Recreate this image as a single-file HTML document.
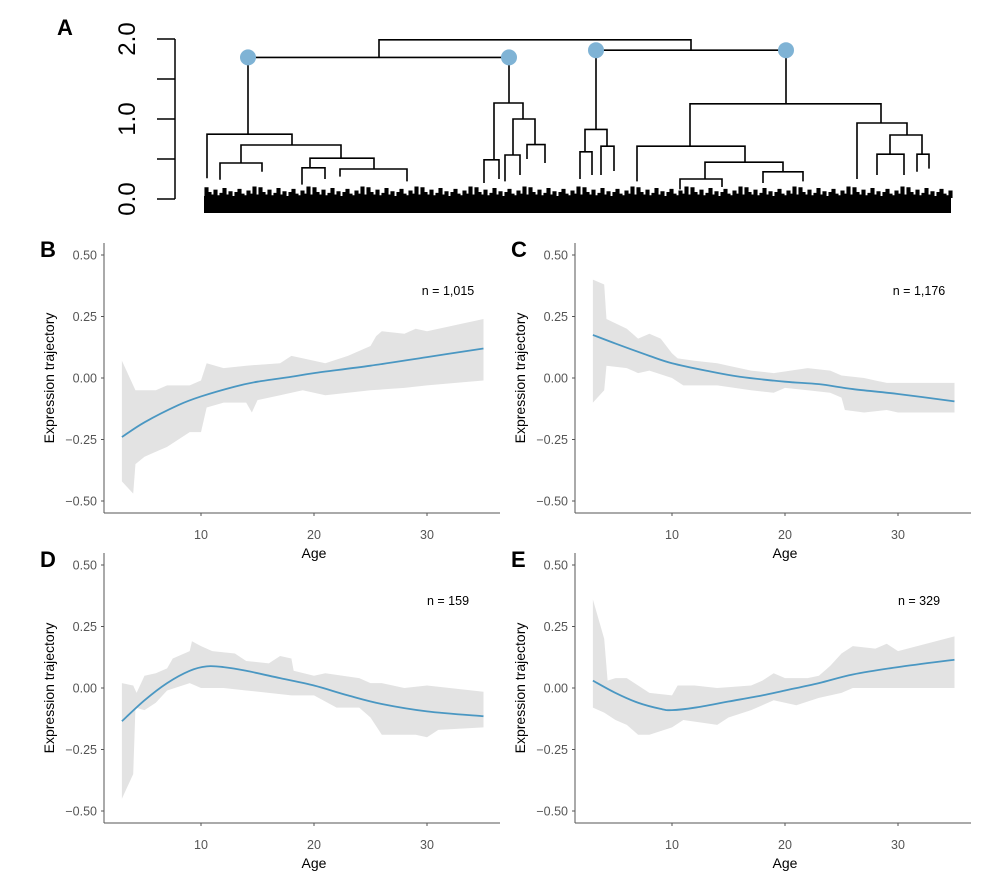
<!DOCTYPE html>
<html><head><meta charset="utf-8"><style>
html,body{margin:0;padding:0;background:#fff;overflow:hidden;}
svg{display:block;font-family:"Liberation Sans",Arial,sans-serif;}
</style></head><body>
<svg id="fig" width="1000" height="879" viewBox="0 0 1000 879"></svg>
<script>
// ---------- Dendrogram data (leaf units = px offset from 205, heights in dendrogram units) ----------
const dendroTicks = [0, 0.5, 1.0, 1.5, 2.0];
const dendroTickLabels = ["0.0", "", "1.0", "", "2.0"];
// links: [leftX, rightX, height, leftChildHeight, rightChildHeight]
const dendroLinks = [
 [174,486,1.99,1.77,1.86],
 [43,304,1.77,0.81,1.20],
 [391,581,1.86,0.87,1.19],
 [2,87,0.81,0.26,0.675],
 [36,136,0.675,0.45,0.51],
 [15,57,0.45,0.24,0.34],
 [105,169,0.51,0.39,0.375],
 [97,120,0.39,0.18,0.25],
 [135,202,0.375,0.28,0.22],
 [289,318,1.20,0.49,1.0],
 [279,294,0.49,0.2,0.25],
 [308,330,1.0,0.55,0.68],
 [300,315,0.55,0.22,0.3],
 [322,340,0.68,0.5,0.45],
 [380,402,0.87,0.59,0.66],
 [375,387,0.59,0.25,0.3],
 [396,409,0.66,0.3,0.35],
 [485,676,1.19,0.66,0.95],
 [432,540,0.66,0.22,0.46],
 [500,578,0.46,0.25,0.34],
 [475,517,0.25,0.12,0.15],
 [558,598,0.34,0.2,0.22],
 [652,702,0.95,0.25,0.80],
 [685,717,0.80,0.56,0.56],
 [712,724,0.56,0.34,0.38],
 [672,699,0.56,0.3,0.3]
];
const dendroNodes = [[43,1.77],[304,1.77],[391,1.86],[581,1.86]];
// leaf stubs (heights at bottom clutter)
const leafStubs = [0.14,0.08,0.05,0.11,0.04,0.07,0.13,0.05,0.09,0.03,0.08,0.12,0.06,0.04,0.1,0.06,0.15,0.05];

// ---------- Trajectory panel data ----------
const yTicks = [0.5,0.25,0,-0.25,-0.5];
const yTickLabels = ["0.50","0.25","0.00","\u22120.25","\u22120.50"];
const xTicks = [10,20,30];
const xTickLabels = ["10","20","30"];

const ageB = [3,5,8,10,13,15,18,20,25,30,35];
const fitB = [-0.24,-0.18,-0.11,-0.075,-0.035,-0.015,0.005,0.02,0.05,0.085,0.12];
const upAgeB = [3,4,4.2,6,7,9,10,10.5,12,14,17,18,20,21,23,25,25.5,26,28,29,30,35];
const upB = [0.07,-0.03,-0.05,-0.05,-0.03,-0.03,-0.01,0.06,0.04,0.05,0.06,0.09,0.07,0.06,0.09,0.13,0.17,0.19,0.18,0.2,0.19,0.24];
const loAgeB = [3,4,4.2,5,6,7,8,9,10,10.5,12,14,14.5,15,17,19,21,23,25,28,30,35];
const loB = [-0.42,-0.47,-0.35,-0.32,-0.30,-0.28,-0.25,-0.22,-0.22,-0.12,-0.1,-0.1,-0.14,-0.09,-0.07,-0.05,-0.07,-0.06,-0.05,-0.04,-0.03,-0.01];

const ageC = [3,5,8,10,13,16,20,23,26,30,35];
const fitC = [0.175,0.14,0.09,0.06,0.03,0.005,-0.015,-0.025,-0.045,-0.065,-0.095];
const upAgeC = [3,4,4.2,6,7,8,9,10,10.5,12,14,15,17,19,22,24,25,27,28,29,30,35];
const upC = [0.40,0.38,0.24,0.2,0.16,0.18,0.16,0.1,0.08,0.07,0.06,0.05,0.03,0.02,0.04,0.03,0.01,0.0,-0.01,-0.02,-0.02,-0.02];
const loAgeC = [3,4,4.2,6,7,8,10,11,14,17,19,20,22,24,25,25.3,27,29,30,35];
const loC = [-0.1,-0.05,0.05,0.04,0.02,0.03,0.0,-0.03,-0.03,-0.05,-0.06,-0.04,-0.05,-0.06,-0.08,-0.13,-0.14,-0.13,-0.14,-0.14];

const ageD = [3,5,7,9,10.5,12,14,17,20,23,26,30,35];
const fitD = [-0.135,-0.05,0.02,0.07,0.088,0.085,0.07,0.04,0.01,-0.03,-0.065,-0.095,-0.115];
const upAgeD = [3,4,4.3,5,6,7,7.5,9,9.2,10,11,13,14,16,17,18,18.2,20,21,24,25,26,28,30,35];
const upD = [0.02,0.01,-0.02,0.05,0.06,0.08,0.12,0.15,0.19,0.17,0.15,0.14,0.11,0.1,0.13,0.12,0.07,0.05,0.06,0.04,0.02,0.02,0.0,0.01,-0.015];
const loAgeD = [3,4,4.2,5,6,7,9,10,12,14,16,18,20,22,24,25,26,29,30,31,35];
const loD = [-0.45,-0.35,-0.08,-0.09,-0.06,-0.01,0.02,0.0,0.0,-0.01,-0.02,-0.03,-0.03,-0.08,-0.08,-0.12,-0.19,-0.19,-0.2,-0.17,-0.16];

const ageE = [3,5,7,9,10,12,15,18,20,23,26,30,35];
const fitE = [0.03,-0.02,-0.06,-0.085,-0.09,-0.08,-0.055,-0.03,-0.01,0.02,0.055,0.085,0.115];
const upAgeE = [3,4,4.3,5,6,7,8,10,10.5,12,14,17,18,19,20,22,23,24,25,26,28,29,30,35];
const upE = [0.36,0.2,0.03,0.04,0.04,0.01,-0.02,-0.03,0.01,0.01,0.0,0.01,0.03,0.06,0.04,0.04,0.05,0.09,0.14,0.17,0.16,0.18,0.15,0.21];
const loAgeE = [3,4,5,6,7,8,10,11,14,15,17,19,21,23,25,26,30,35];
const loE = [-0.08,-0.1,-0.13,-0.15,-0.19,-0.19,-0.16,-0.13,-0.15,-0.12,-0.09,-0.05,-0.07,-0.04,-0.02,0.0,0.0,0.0];

const svg = document.getElementById('fig');
const NS = 'http://www.w3.org/2000/svg';
function mk(tag, attrs, parent){ const e=document.createElementNS(NS,tag); for(const k in attrs) e.setAttribute(k,attrs[k]); (parent||svg).appendChild(e); return e; }

// ---------- Dendrogram ----------
const gA = mk('g',{});


const dx = u => 205 + u;
const dy = h => 199 - h*80;
const lblA = mk('text',{x:57,y:35,'font-size':22,'font-weight':'bold',fill:'#000'},gA); lblA.textContent='A';


const dAxis = mk('path',{d:`M175 ${dy(0)} V ${dy(2)}`,stroke:'#000','stroke-width':1.5,fill:'none'},gA);


dendroTicks.forEach((t,i)=>{
  mk('line',{x1:157,x2:175,y1:dy(t),y2:dy(t),stroke:'#000','stroke-width':1.5},gA);
  if(dendroTickLabels[i]){
    const tx = mk('text',{x:0,y:0,'font-size':24,fill:'#000','text-anchor':'middle',transform:`translate(135 ${dy(t)}) rotate(-90)`},gA);
    tx.textContent = dendroTickLabels[i];
    
    
  }
});
// leaves block
const blk = mk('rect',{x:dx(-1),y:196,width:747,height:17,fill:'#000'},gA);


let stub = '';
for(let u=0, k=0; u<745; u+=3, k++){
  const h = leafStubs[k%leafStubs.length];
  stub += `M${dx(u)} 198 V ${dy(h)} H ${dx(u+3)} V 198 `;
}
mk('path',{d:stub,stroke:'#000','stroke-width':1.1,fill:'#000'},gA);
dendroLinks.forEach(l=>{
  const p = mk('path',{d:`M${dx(l[0])} ${dy(l[3])} V ${dy(l[2])} H ${dx(l[1])} V ${dy(l[4])}`,stroke:'#000','stroke-width':1.6,fill:'none'},gA);
  
  
});
dendroNodes.forEach(n=>{
  const c = mk('circle',{cx:dx(n[0]),cy:dy(n[1]),r:8,fill:'#7fb3d5'},gA);
  
  
});

// ---------- Trajectory panels ----------
function smooth(pts){
  let d = `M${pts[0][0]} ${pts[0][1]}`;
  for(let i=0;i<pts.length-1;i++){
    const p0=pts[Math.max(0,i-1)],p1=pts[i],p2=pts[i+1],p3=pts[Math.min(pts.length-1,i+2)];
    const c1=[p1[0]+(p2[0]-p0[0])/6,p1[1]+(p2[1]-p0[1])/6];
    const c2=[p2[0]-(p3[0]-p1[0])/6,p2[1]-(p3[1]-p1[1])/6];
    d+=` C${c1[0]} ${c1[1]} ${c2[0]} ${c2[1]} ${p2[0]} ${p2[1]}`;
  }
  return d;
}
function panel(o){
  const g = mk('g',{});
  
  
  const X = a => o.a10 + (a-10)*11.3;
  const Y = v => o.y0 - v*246;
  // band
  let d = 'M';
  o.upA.forEach((a,i)=>{ d += `${X(a)} ${Y(o.up[i])} L`; });
  for(let i=o.loA.length-1;i>=0;i--){ d += `${X(o.loA[i])} ${Y(o.lo[i])}` + (i>0?' L':''); }
  d+=' Z';
  const band = mk('path',{d:d,fill:'#e3e3e3',stroke:'none'},g);
  
  
  const line = mk('path',{d:smooth(o.age.map((a,i)=>[X(a),Y(o.fit[i])])),fill:'none',stroke:'#4a97c2','stroke-width':1.8},g);
  
  
  // axes
  const yA = mk('line',{x1:o.ax,x2:o.ax,y1:o.y0-135,y2:o.y0+135,stroke:'#555','stroke-width':1},g);
  
  
  const xA = mk('line',{x1:o.ax,x2:o.ax+396,y1:o.y0+135,y2:o.y0+135,stroke:'#555','stroke-width':1},g);
  
  
  yTicks.forEach((t,i)=>{
    mk('line',{x1:o.ax-3,x2:o.ax,y1:Y(t),y2:Y(t),stroke:'#555'},g);
    const tx = mk('text',{x:o.ax-7,y:Y(t)+4.5,'font-size':12.5,fill:'#555','text-anchor':'end'},g);
    tx.textContent = yTickLabels[i];
    
    
  });
  xTicks.forEach((t,i)=>{
    mk('line',{x1:X(t),x2:X(t),y1:o.y0+135,y2:o.y0+138,stroke:'#555'},g);
    const tx = mk('text',{x:X(t),y:o.y0+161,'font-size':12.5,fill:'#555','text-anchor':'middle'},g);
    tx.textContent = xTickLabels[i];
    
    
  });
  const xt = mk('text',{x:X(20),y:o.y0+180,'font-size':14,fill:'#000','text-anchor':'middle'},g);
  xt.textContent='Age';
  
  
  const yt = mk('text',{x:0,y:0,'font-size':14,fill:'#000','text-anchor':'middle',transform:`translate(${o.ax-50} ${o.y0}) rotate(-90)`},g);
  yt.textContent='Expression trajectory';
  
  
  const nt = mk('text',{x:o.ax+344,y:o.y0-83,'font-size':12.5,fill:'#000','text-anchor':'middle'},g);
  nt.textContent=o.n;
  
  
  const lt = mk('text',{x:o.ax-64,y:o.y0-121,'font-size':22,'font-weight':'bold',fill:'#000'},g);
  lt.textContent=o.letter;
  
  
}
panel({name:'panel-b',letter:'B',n:'n = 1,015',ax:104,a10:201,y0:378,age:ageB,fit:fitB,upA:upAgeB,up:upB,loA:loAgeB,lo:loB});
panel({name:'panel-c',letter:'C',n:'n = 1,176',ax:575,a10:672,y0:378,age:ageC,fit:fitC,upA:upAgeC,up:upC,loA:loAgeC,lo:loC});
panel({name:'panel-d',letter:'D',n:'n = 159',ax:104,a10:201,y0:688,age:ageD,fit:fitD,upA:upAgeD,up:upD,loA:loAgeD,lo:loD});
panel({name:'panel-e',letter:'E',n:'n = 329',ax:575,a10:672,y0:688,age:ageE,fit:fitE,upA:upAgeE,up:upE,loA:loAgeE,lo:loE});
</script>
</body></html>
